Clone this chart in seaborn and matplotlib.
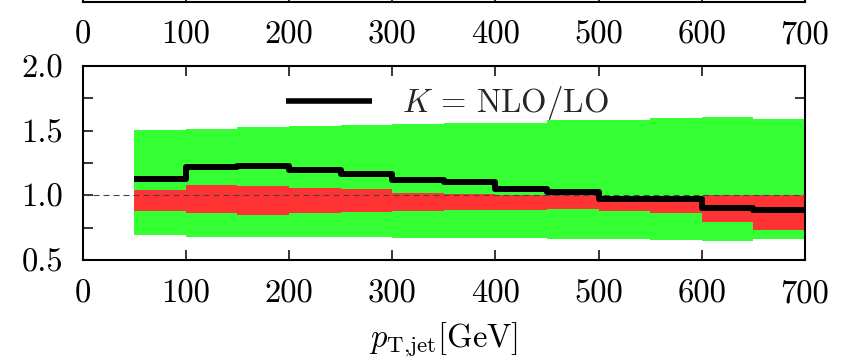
import numpy as np
import pandas as pd
import matplotlib
matplotlib.use("Agg")
import matplotlib.pyplot as plt
from matplotlib.ticker import MultipleLocator, NullLocator
import seaborn as sns

# ---- data ----
bin_edges = [50, 100, 150, 200, 250, 300, 350, 400, 450, 500, 550, 600, 650, 700]
k_factor = [1.125, 1.22, 1.225, 1.195, 1.165, 1.118, 1.10, 1.048, 1.025, 0.975, 0.97, 0.90, 0.887]
lo_band_up = [1.505, 1.51, 1.525, 1.535, 1.54, 1.55, 1.56, 1.56, 1.58, 1.582, 1.598, 1.605, 1.592]
lo_band_down = [0.69, 0.68, 0.68, 0.68, 0.677, 0.67, 0.67, 0.67, 0.665, 0.665, 0.654, 0.65, 0.66]
nlo_band_up = [1.04, 1.08, 1.075, 1.06, 1.05, 1.018, 1.012, 1.0, 1.0, 0.985, 0.98, 1.0, 1.0]
nlo_band_down = [0.88, 0.86, 0.85, 0.865, 0.87, 0.88, 0.885, 0.888, 0.893, 0.877, 0.865, 0.792, 0.73]
x_ticks = [0, 100, 200, 300, 400, 500, 600, 700]
y_ticks = [0.5, 1.0, 1.5, 2.0]
y_tick_labels = ["0.5", "1.0", "1.5", "2.0"]
legend_label = r"$K\,=\,\mathrm{NLO/LO}$"
x_label = r"$p_{\mathrm{T{,}jet}}[\mathrm{GeV}]$"

sns.set_theme(style="ticks")
plt.rcParams["font.family"] = ["serif"]
plt.rcParams["font.serif"] = ["cmr10", "DejaVu Serif"]
plt.rcParams["mathtext.fontset"] = "cm"
plt.rcParams["axes.formatter.use_mathtext"] = True

def stepped(vals):
    return list(vals) + [vals[-1]]

df = pd.DataFrame({
    "x": bin_edges,
    "k": stepped(k_factor),
    "lo_up": stepped(lo_band_up),
    "lo_dn": stepped(lo_band_down),
    "nlo_up": stepped(nlo_band_up),
    "nlo_dn": stepped(nlo_band_down),
})

W, H = 846, 361
fig = plt.figure(figsize=(W / 100, H / 100), dpi=100)

x0, x1 = 82.7, 805.0
ytop, ybot = 66.0, 260.0
ax = fig.add_axes([x0 / W, 1 - ybot / H, (x1 - x0) / W, (ybot - ytop) / H])
ax_top = fig.add_axes([x0 / W, 1 - 1.5 / H, (x1 - x0) / W, 0.5])

FS = 23.5
green = "#33ff33"
red = "#ff3333"

ax.fill_between(df["x"], df["lo_dn"], df["lo_up"], step="post", color=green, lw=0, zorder=1)
ax.fill_between(df["x"], df["nlo_dn"], df["nlo_up"], step="post", color=red, lw=0, zorder=2)
ax.axhline(1.0, color="#444444", lw=0.8, ls=(0, (5.4, 3.6)), zorder=3)
sns.lineplot(data=df, x="x", y="k", drawstyle="steps-post", color="black", lw=4.3,
             ax=ax, zorder=4, label=legend_label, solid_capstyle="butt")

for a in (ax, ax_top):
    a.set_xlim(0, 700)
    a.set_xticks(x_ticks)
    a.xaxis.set_minor_locator(NullLocator())
    for s in a.spines.values():
        s.set_linewidth(1.5)
        s.set_color("black")
    a.tick_params(which="both", direction="in", length=7.2, width=1.1, color="black",
                  top=True, right=True, labelsize=FS, pad=14, labelcolor="black")
    a.set_facecolor("white")

ax.set_ylim(0.5, 2.0)
ax.set_yticks(y_ticks)
ax.set_yticklabels(y_tick_labels)
ax.yaxis.set_minor_locator(MultipleLocator(0.25))
ax.set_xticklabels([str(t) for t in x_ticks])
ax.set_xlabel(x_label, fontsize=FS, labelpad=9, color="black")
ax.set_ylabel("")

ax_top.set_ylim(0, 1)
ax_top.set_yticks([])
ax_top.set_xticklabels([str(t) for t in x_ticks])
ax_top.set_xlabel("")

leg = ax.legend(loc="center", bbox_to_anchor=(447 / W, 1 - 103 / H), bbox_transform=fig.transFigure,
                frameon=False, fontsize=FS, handlelength=2.65, handletextpad=0.9, borderpad=0)
for line in leg.get_lines():
    line.set_linewidth(4)

fig.savefig("out.png", dpi=100)
